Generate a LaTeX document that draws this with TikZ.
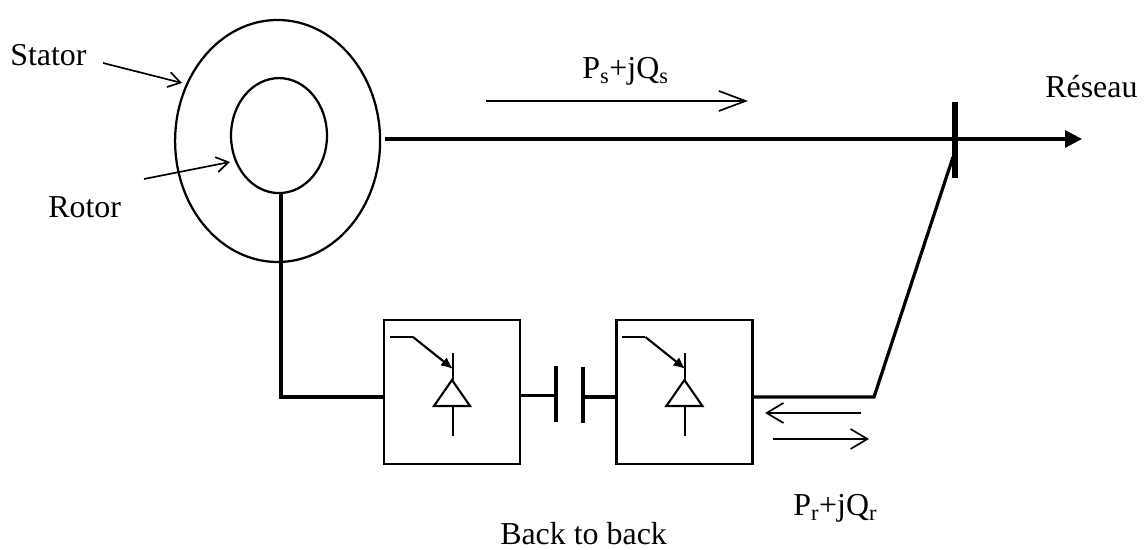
\documentclass[tikz,border=0pt]{standalone}
\usepackage{fontspec}
\setmainfont{Liberation Serif}
\usetikzlibrary{arrows.meta,calc,shapes.geometric}
\def\igbt(#1){
	\draw[symb] ($(#1)+(-1.55, 1.375)$) -- ($(#1)+(-0.975, 1.375)$);
	\draw[symb, -{Latex[length=3mm,width=2.6mm]}] ($(#1)+(-0.975, 1.375)$) -- ($(#1)+(0.025, 0.575)$);
	\draw[symb] ($(#1)+(0.025, 0.975)$) -- ($(#1)+(0.025, 0.3)$);
	\draw[symb] ($(#1)+(0, 0.3)$) -- ($(#1)+(-0.45, -0.35)$) -- ($(#1)+(0.45, -0.35)$) -- cycle;
	\draw[symb] ($(#1)+(0.025, -0.35)$) -- ($(#1)+(0.025, -1.1)$);
}
\tikzset{
	machine/.style={draw, ellipse, line width=1.6pt, inner sep=0, outer sep=0},
	conv/.style={draw, rectangle, line width=1.7pt, minimum width=3.4cm, minimum height=3.6cm, inner sep=0, outer sep=0},
	wire/.style={line width=2.3pt},
	symb/.style={line width=1.5pt},
	flow/.style={line width=1.2pt, -{Straight Barb[length=4.2mm,width=5mm]}},
	ptr/.style={line width=1.2pt, -{Straight Barb[length=3mm,width=3.8mm]}},
	lbl/.style={anchor=base west, inner sep=0, font=\fontsize{22.7}{27}\selectfont}
}

\begin{document}
\begin{tikzpicture}
	%%%%% START %%%%%
	\useasboundingbox (0, 0) rectangle (28.7, 13.75);

	\node[machine, minimum width=5.125cm, minimum height=6.05cm] (stator) at (6.94, 10.225) {};
	\node[machine, minimum width=2.4cm, minimum height=2.875cm] (rotor) at (6.975, 10.36) {};

	\node[conv] (box1) at (11.3, 3.95) {};
	\node[conv] (box2) at (17.11, 3.95) {};
	\igbt(box1);
	\igbt(box2);

	\coordinate (capa) at (13.9, 3.86);
	\coordinate (capb) at (14.575, 3.825);
	\draw[wire] (box1.east |- capa) -- (capa);
	\draw[wire] (capb) -- (box2.west |- capb);
	\draw[wire] (13.9, 4.6) -- (13.9, 3.2);
	\draw[wire] (14.575, 4.575) -- (14.575, 3.175);

	\coordinate (rotorfoot) at (7.025, 3.825);
	\draw[wire] (7.025, 8.92) -- (rotorfoot) -- (box1.west |- rotorfoot);

	\coordinate (busstart) at (9.625, 10.275);
	\coordinate (busend) at (27.05, 10.275);
	\draw[wire, -{Triangle[length=4.2mm,width=4.2mm]}] (busstart) -- (busend);
	\draw[line width=3.6pt] (23.875, 11.2) -- (23.875, 9.3);

	\coordinate (knee) at (21.85, 3.825);
	\coordinate (busfeed) at (23.825, 9.825);
	\draw[wire] (box2.east |- knee) -- (knee) -- (busfeed);

	\node[lbl] (statorlbl) at (0.25, 12.1) {Stator};
	\node[lbl] (rotorlbl) at (1.2, 8.3) {Rotor};
	\node[lbl] (reseaulbl) at (26.125, 11.3) {Réseau};
	\node[lbl] (pslbl) at (14.55, 11.775) {P\textsubscript{s}+jQ\textsubscript{s}};
	\node[lbl] (prlbl) at (19.825, 0.85) {P\textsubscript{r}+jQ\textsubscript{r}};
	\node[lbl] (backlbl) at (12.5, 0.125) {Back to back};

	\coordinate (st0) at (2.575, 12.175);
	\coordinate (st1) at (4.55, 11.675);
	\draw[ptr] (st0) -- (st1);
	\coordinate (ro0) at (3.6, 9.275);
	\coordinate (ro1) at (5.75, 9.7);
	\draw[ptr] (ro0) -- (ro1);
	\coordinate (ps0) at (12.15, 11.225);
	\coordinate (ps1) at (18.7, 11.225);
	\draw[line width=1.2pt, -{Straight Barb[length=6.7mm,width=5mm]}] (ps0) -- (ps1);
	\coordinate (qa0) at (21.525, 3.425);
	\coordinate (qa1) at (19.125, 3.425);
	\draw[flow] (qa0) -- (qa1);
	\coordinate (qb0) at (19.325, 2.775);
	\coordinate (qb1) at (21.725, 2.775);
	\draw[flow] (qb0) -- (qb1);
	%%%%% END %%%%%
\end{tikzpicture}
\end{document}
